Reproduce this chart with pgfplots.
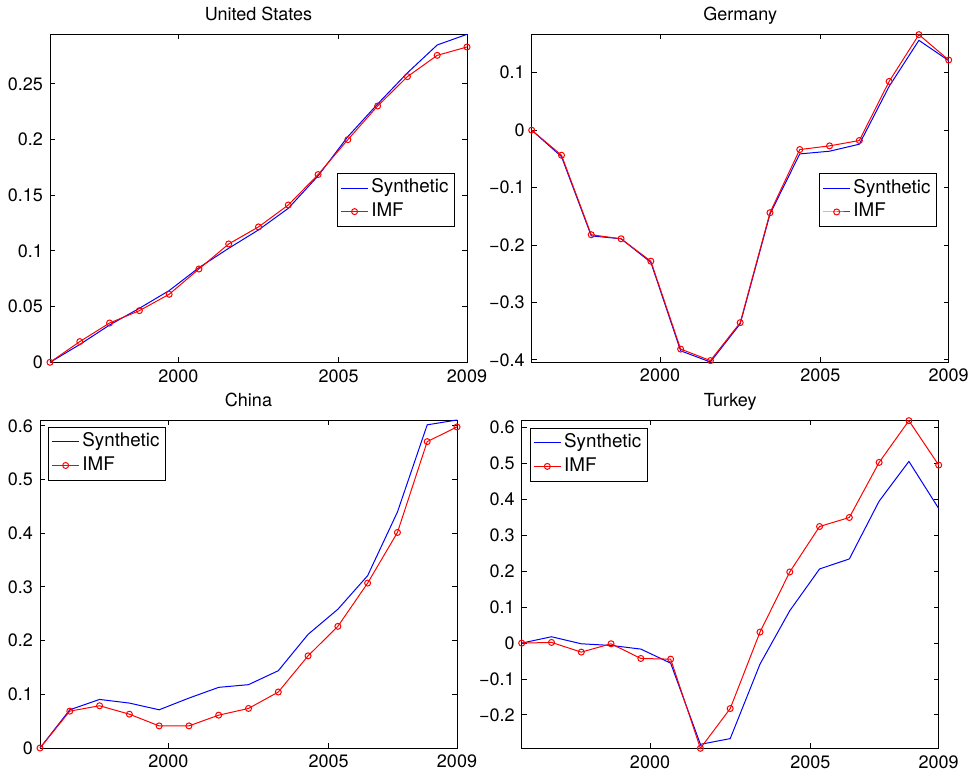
\documentclass[border=0pt]{standalone}
\usepackage{fontspec}
\setmainfont{TeX Gyre Heros}
\usepackage{pgfplots}
\usepackage{pgfplotstable}
\pgfplotsset{compat=1.18}

\pgfplotstableread{
x S I
1996.000 0 0
1996.929 0.016 0.0186
1997.857 0.0335 0.0353
1998.786 0.0485 0.0464
1999.714 0.0644 0.0611
2000.643 0.085 0.0838
2001.571 0.1024 0.1063
2002.500 0.1189 0.1216
2003.429 0.1383 0.1413
2004.357 0.1674 0.1686
2005.286 0.2027 0.2000
2006.214 0.232 0.2302
2007.143 0.260 0.2566
2008.071 0.285 0.2757
2009.000 0.2946 0.2832
}\us

\pgfplotstableread{
x S I
1996.000 0 0
1996.929 -0.046 -0.0436
1997.857 -0.184 -0.182
1998.786 -0.189 -0.189
1999.714 -0.230 -0.228
2000.643 -0.384 -0.381
2001.571 -0.4035 -0.401
2002.500 -0.337 -0.335
2003.429 -0.146 -0.1436
2004.357 -0.0413 -0.0337
2005.286 -0.0366 -0.0273
2006.214 -0.0244 -0.018
2007.143 0.0762 0.0849
2008.071 0.1564 0.1663
2009.000 0.121 0.1221
}\de

\pgfplotstableread{
x S I
1996.000 0 0
1996.929 0.0712 0.0687
1997.857 0.0905 0.0787
1998.786 0.0837 0.063
1999.714 0.0712 0.0412
2000.643 0.093 0.0412
2001.571 0.113 0.0612
2002.500 0.118 0.0737
2003.429 0.144 0.1043
2004.357 0.2117 0.1717
2005.286 0.2585 0.2266
2006.214 0.321 0.3072
2007.143 0.4396 0.4015
2008.071 0.602 0.5707
2009.000 0.611 0.5981
}\cn

\pgfplotstableread{
x S I
1996.000 0 0
1996.929 0.0177 0.0019
1997.857 -0.0019 -0.0251
1998.786 -0.0065 -0.0019
1999.714 -0.0167 -0.0428
2000.643 -0.0558 -0.0447
2001.571 -0.2819 -0.293
2002.500 -0.266 -0.1823
2003.429 -0.0586 0.0307
2004.357 0.0902 0.1981
2005.286 0.2065 0.3247
2006.214 0.2344 0.3498
2007.143 0.3953 0.5033
2008.071 0.506 0.6195
2009.000 0.3749 0.4958
}\tr

\pgfplotsset{
  every axis title shift=0pt,
  mstyle/.style={
    scale only axis, width=208.5pt, height=164pt,
    xmin=1996, xmax=2009,
    xtick={2000,2005,2009}, xticklabels={2000,2005,2009},
    tick align=inside, major tick length=2.5pt,
    axis line style={line width=0.5pt},
    every tick/.style={black, line width=0.5pt},
    tick label style={font=\fontsize{9}{10}\selectfont},
    title style={font=\fontsize{9}{10}\selectfont, at={(0.5,1)}, anchor=base, yshift=7pt},
    legend style={font=\fontsize{9.4}{10}\selectfont, draw=black, line width=0.5pt,
      inner xsep=1.5pt, inner ysep=1.5pt,
      nodes={inner sep=1.5pt, text height=6.8pt, text depth=2pt}},
    legend cell align=left,
    legend image code/.code={\draw[mark repeat=2,mark phase=2,##1] plot coordinates {(0pt,0pt) (6.65pt,0pt) (13.3pt,0pt)};},
    clip=false,
  },
  synth/.style={color=blue, line width=0.5pt, no markers},
  imf/.style={color=red, line width=0.5pt, mark=o, mark size=1.5pt, mark options={solid, line width=0.5pt}},
}

\begin{document}
\begin{tikzpicture}
\useasboundingbox (0,0) rectangle (485.5pt,-389pt);

\begin{axis}[mstyle, at={(25pt,-181.15pt)}, anchor=south west,
  title={United States},
  ymin=0, ymax=0.2946,
  ytick={0,0.05,0.1,0.15,0.2,0.25}, yticklabels={0,0.05,0.1,0.15,0.2,0.25},
  legend style={at={(0.971,0.578)}, anchor=north east}]
\addplot[synth] table[x=x,y=S] {\us};
\addplot[imf] table[x=x,y=I] {\us};
\legend{Synthetic,IMF}
\end{axis}

\begin{axis}[mstyle, at={(265.85pt,-181pt)}, anchor=south west,
  title={Germany},
  ymin=-0.4035, ymax=0.1674,
  ytick={-0.4,-0.3,-0.2,-0.1,0,0.1}, yticklabels={−0.4,−0.3,−0.2,−0.1,0,0.1},
  legend style={at={(0.972,0.576)}, anchor=north east}]
\addplot[synth] table[x=x,y=S] {\de};
\addplot[imf] table[x=x,y=I] {\de};
\legend{Synthetic,IMF}
\end{axis}

\begin{axis}[mstyle, at={(20pt,-374pt)}, anchor=south west,
  title={China},
  ymin=0, ymax=0.611,
  ytick={0,0.1,0.2,0.3,0.4,0.5,0.6}, yticklabels={0,0.1,0.2,0.3,0.4,0.5,0.6},
  legend style={at={(0.02,0.98)}, anchor=north west}]
\addplot[synth] table[x=x,y=S] {\cn};
\addplot[imf] table[x=x,y=I] {\cn};
\legend{Synthetic,IMF}
\end{axis}

\begin{axis}[mstyle, at={(260.85pt,-374.15pt)}, anchor=south west,
  title={Turkey},
  ymin=-0.293, ymax=0.6205,
  ytick={-0.2,-0.1,0,0.1,0.2,0.3,0.4,0.5,0.6}, yticklabels={−0.2,−0.1,0,0.1,0.2,0.3,0.4,0.5,0.6},
  legend style={at={(0.02,0.978)}, anchor=north west}]
\addplot[synth] table[x=x,y=S] {\tr};
\addplot[imf] table[x=x,y=I] {\tr};
\legend{Synthetic,IMF}
\end{axis}
\end{tikzpicture}
\end{document}
